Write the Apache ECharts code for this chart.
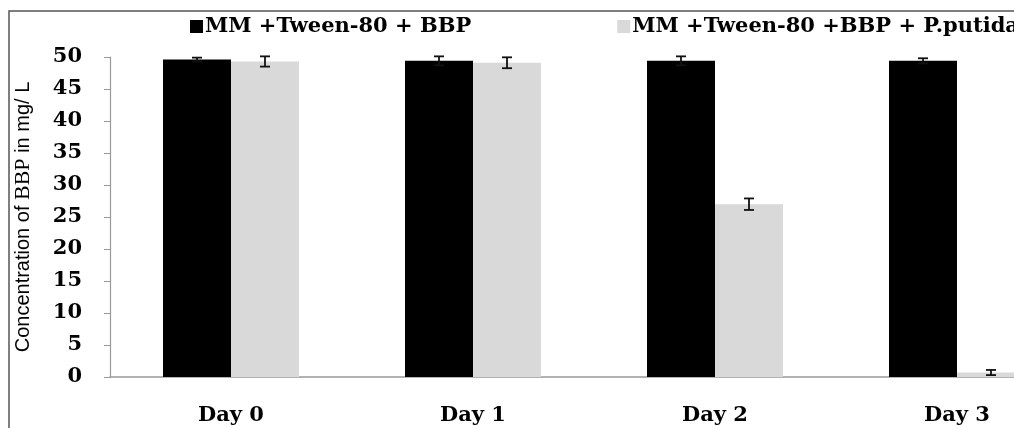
<!DOCTYPE html>
<html>
<head>
<meta charset="utf-8">
<script src="https://cdn.jsdelivr.net/npm/echarts@6/dist/echarts.min.js"></script>
<style>
html,body{margin:0;padding:0;background:#fff;overflow:hidden;}
#chart{width:1100px;height:428px;}
</style>
</head>
<body>
<div id="chart"></div>
<script>
const categories = ['Day 0', 'Day 1', 'Day 2', 'Day 3'];
const seriesNames = ['MM +Tween-80 + BBP', 'MM +Tween-80 +BBP + P.putida'];
const controlValues = [49.6, 49.4, 49.4, 49.4];
const controlErrors = [0.3, 0.7, 0.7, 0.4];
const putidaValues = [49.3, 49.1, 27.0, 0.7];
const putidaErrors = [0.8, 0.85, 0.9, 0.4];
const yTicks = [0, 5, 10, 15, 20, 25, 30, 35, 40, 45, 50];

const BAR_FRAC = 0.281;
const serifBold = '"DejaVu Serif", "Liberation Serif", serif';

function errData(vals, errs) {
  return vals.map((v, i) => [i, v, errs[i]]);
}
function errSeries(name, vals, errs, side) {
  return {
    type: 'custom',
    name: name + ' err',
    z: 5,
    silent: true,
    data: errData(vals, errs),
    renderItem: function (params, api) {
      const x = api.value(0), v = api.value(1), e = api.value(2);
      const band = api.size([1, 0])[0];
      const bw = band * BAR_FRAC;
      const off = side * bw / 2;
      const hi = api.coord([x, v + e]);
      const lo = api.coord([x, v - e]);
      const cx = hi[0] + off;
      const cap = 5;
      const style = { stroke: '#111', lineWidth: 1.8 };
      return {
        type: 'group',
        children: [
          { type: 'line', shape: { x1: cx, y1: hi[1], x2: cx, y2: lo[1] }, style: style },
          { type: 'line', shape: { x1: cx - cap, y1: hi[1], x2: cx + cap, y2: hi[1] }, style: style },
          { type: 'line', shape: { x1: cx - cap, y1: lo[1], x2: cx + cap, y2: lo[1] }, style: style }
        ]
      };
    }
  };
}

const chart = echarts.init(document.getElementById('chart'), null, { renderer: 'canvas' });
chart.setOption({
  animation: false,
  backgroundColor: '#fff',
  graphic: [{
    type: 'rect',
    shape: { x: 9, y: 11, width: 1200, height: 600 },
    style: { fill: 'none', stroke: '#555', lineWidth: 1.5 },
    z: 0
  }],
  legend: {
    left: 185,
    top: 11,
    width: 900,
    itemWidth: 13,
    itemHeight: 13,
    itemGap: 146,
    icon: 'rect',
    textStyle: { fontFamily: serifBold, fontWeight: 'bold', fontSize: 21, color: '#000', padding: [0, 0, 0, -3] },
    data: seriesNames
  },
  grid: { left: 110, right: 22, top: 57, bottom: 51, containLabel: false },
  xAxis: {
    type: 'category',
    data: categories,
    axisLine: { show: true, lineStyle: { color: '#999', width: 1.5 } },
    axisTick: { show: false },
    axisLabel: { margin: 28, fontFamily: serifBold, fontWeight: 'bold', fontSize: 21, color: '#000' }
  },
  yAxis: {
    type: 'value',
    min: 0,
    max: 50,
    interval: 5,
    splitLine: { show: false },
    axisLine: { show: true, lineStyle: { color: '#999', width: 1.2 } },
    axisTick: { show: true, length: 6, lineStyle: { color: '#999' } },
    axisLabel: {
      margin: 28,
      fontFamily: serifBold, fontWeight: 'bold', fontSize: 21, color: '#000',
      formatter: function (v) { return yTicks.indexOf(v) >= 0 ? String(v) : ''; }
    },
    name: '{a|Concentration of }{b|BBP}{a| in mg/ L}',
    nameLocation: 'middle',
    nameGap: 76,
    nameRotate: 90,
    nameTextStyle: {
      rich: {
        a: { fontFamily: '"Liberation Sans", Arial, sans-serif', fontSize: 20, color: '#000' },
        b: { fontFamily: '"Liberation Serif", serif', fontSize: 22, color: '#000' }
      }
    }
  },
  series: [
    {
      name: seriesNames[0], type: 'bar', data: controlValues,
      barWidth: (BAR_FRAC * 100) + '%', barGap: '0%',
      itemStyle: { color: '#000' }
    },
    {
      name: seriesNames[1], type: 'bar', data: putidaValues,
      barWidth: (BAR_FRAC * 100) + '%', barGap: '0%',
      itemStyle: { color: '#d9d9d9' }
    },
    errSeries(seriesNames[0], controlValues, controlErrors, -1),
    errSeries(seriesNames[1], putidaValues, putidaErrors, 1)
  ]
});
</script>
</body>
</html>
